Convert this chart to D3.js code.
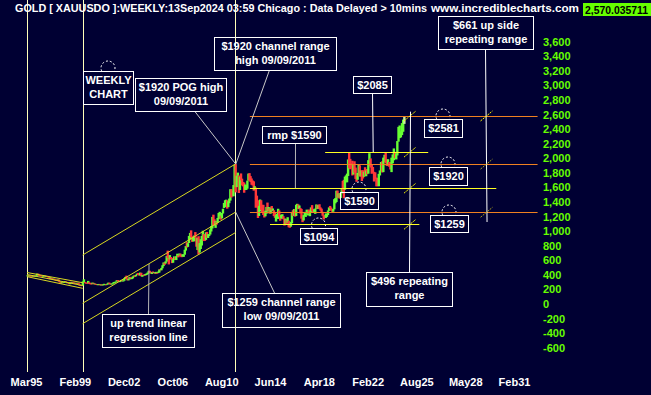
<!DOCTYPE html>
<html>
<head>
  <meta charset="utf-8">
  <title>Gold weekly</title>
  <script src="https://cdnjs.cloudflare.com/ajax/libs/d3/7.8.5/d3.min.js"></script>
  <style>
    html, body { margin: 0; padding: 0; background: #000033; }
    svg { display: block; font-family: "Liberation Sans", Arial, sans-serif; font-weight: bold; }
  </style>
</head>
<body>
  <svg id="chart" width="651" height="395"></svg>
  <script>
    // axis labels
    const tickLabels = ['Mar95', 'Feb99', 'Dec02', 'Oct06', 'Aug10', 'Jun14', 'Apr18', 'Feb22', 'Aug25', 'May28', 'Feb31']
    const priceTicks = [-600, -400, -200, 0, 200, 400, 600, 800, 1000, 1200, 1400, 1600, 1800, 2000,
      2200, 2400, 2600, 2800, 3000, 3200, 3400, 3600]

    // monthly bars from Apr 1995 to Sep 2024
    const firstMonth = '1995-04'
    const closes = [
      389, 385, 387, 383, 382, 384, 383, 387, 387,
      405, 400, 396, 392, 391, 382, 385, 387, 379, 379, 371, 369,
      345, 358, 348, 340, 345, 334, 326, 325, 332, 311, 296, 290,
      303, 297, 301, 310, 293, 296, 288, 273, 293, 292, 294, 288,
      287, 287, 279, 286, 268, 261, 255, 254, 299, 299, 291, 290,
      283, 293, 278, 276, 273, 288, 276, 278, 273, 264, 270, 273,
      265, 267, 258, 264, 267, 271, 266, 273, 293, 279, 275, 279,
      282, 297, 302, 308, 326, 318, 304, 312, 324, 317, 318, 347,
      368, 348, 334, 336, 364, 346, 354, 375, 388, 386, 398, 416,
      403, 397, 427, 388, 394, 395, 391, 408, 416, 428, 453, 438,
      422, 435, 428, 435, 417, 436, 429, 433, 473, 470, 495, 517,
      569, 556, 583, 654, 644, 616, 633, 624, 599, 604, 646, 636,
      650, 665, 663, 683, 660, 650, 667, 673, 742, 789, 783, 834,
      923, 972, 916, 865, 887, 930, 913, 833, 880, 718, 815, 869,
      927, 942, 916, 883, 979, 927, 955, 955, 1001, 1040, 1181, 1096,
      1081, 1118, 1113, 1180, 1213, 1244, 1181, 1248, 1307, 1357, 1386, 1421,
      1333, 1409, 1439, 1556, 1536, 1500, 1628, 1825, 1620, 1722, 1746, 1565,
      1738, 1697, 1669, 1664, 1560, 1604, 1622, 1692, 1776, 1719, 1713, 1675,
      1663, 1578, 1595, 1472, 1393, 1234, 1312, 1395, 1328, 1323, 1250, 1202,
      1240, 1326, 1284, 1296, 1250, 1327, 1282, 1287, 1209, 1171, 1182, 1199,
      1283, 1212, 1183, 1183, 1190, 1172, 1095, 1135, 1115, 1142, 1065, 1061,
      1118, 1238, 1233, 1293, 1215, 1322, 1351, 1309, 1316, 1277, 1173, 1152,
      1211, 1249, 1249, 1268, 1269, 1242, 1269, 1322, 1280, 1271, 1275, 1303,
      1345, 1318, 1325, 1315, 1299, 1253, 1224, 1201, 1192, 1215, 1222, 1282,
      1321, 1313, 1292, 1284, 1305, 1409, 1413, 1520, 1472, 1513, 1464, 1517,
      1589, 1585, 1577, 1687, 1730, 1781, 1975, 1968, 1886, 1879, 1776, 1898,
      1847, 1734, 1708, 1769, 1907, 1770, 1814, 1813, 1743, 1783, 1774, 1829,
      1796, 1908, 1937, 1897, 1837, 1807, 1766, 1711, 1660, 1633, 1768, 1824,
      1928, 1827, 1969, 1990, 1963, 1919, 1965, 1940, 1849, 1983, 2036, 2063,
      2039, 2044, 2230, 2286, 2327, 2327, 2447, 2503, 2570
    ]
    const highs = [
      396, 392, 391, 390, 390, 387, 388, 389, 390,
      418, 416, 400, 397, 394, 390, 388, 389, 388, 384, 383, 375,
      368, 365, 357, 349, 348, 346, 335, 335, 337, 336, 313, 298,
      307, 304, 302, 314, 310, 299, 297, 289, 299, 304, 301, 298,
      294, 291, 289, 292, 290, 266, 263, 258, 310, 339, 300, 292,
      293, 317, 298, 288, 284, 294, 290, 282, 277, 274, 271, 275,
      270, 268, 269, 268, 277, 272, 271, 279, 293, 292, 280, 280,
      285, 302, 303, 309, 327, 329, 318, 316, 330, 326, 322, 350,
      372, 389, 352, 341, 372, 370, 357, 378, 391, 392, 400, 417,
      426, 415, 431, 428, 395, 397, 409, 412, 419, 432, 455, 456,
      431, 440, 446, 438, 431, 441, 430, 444, 475, 479, 495, 531,
      570, 572, 586, 658, 732, 635, 671, 645, 631, 614, 653, 645,
      656, 690, 668, 693, 691, 669, 683, 681, 745, 795, 848, 835,
      934, 975, 1011, 930, 918, 941, 987, 915, 906, 930, 836, 889,
      933, 1005, 960, 929, 984, 989, 958, 958, 1023, 1070, 1195, 1226,
      1162, 1140, 1133, 1180, 1249, 1265, 1212, 1250, 1308, 1387, 1424, 1432,
      1423, 1410, 1447, 1576, 1577, 1553, 1632, 1912, 1920, 1761, 1803, 1764,
      1747, 1792, 1720, 1675, 1666, 1640, 1631, 1693, 1790, 1796, 1755, 1723,
      1695, 1684, 1616, 1597, 1487, 1424, 1346, 1434, 1424, 1361, 1361, 1267,
      1280, 1332, 1392, 1331, 1315, 1326, 1345, 1311, 1287, 1255, 1222, 1238,
      1307, 1283, 1224, 1224, 1232, 1205, 1175, 1170, 1157, 1191, 1143, 1088,
      1128, 1263, 1287, 1304, 1303, 1362, 1375, 1367, 1352, 1317, 1305, 1182,
      1220, 1264, 1262, 1295, 1275, 1297, 1272, 1326, 1357, 1306, 1299, 1309,
      1366, 1361, 1356, 1369, 1326, 1309, 1265, 1219, 1215, 1243, 1236, 1284,
      1326, 1346, 1324, 1301, 1306, 1439, 1453, 1555, 1557, 1518, 1515, 1524,
      1592, 1689, 1704, 1748, 1765, 1789, 1984, 2075, 1992, 1933, 1966, 1907,
      1959, 1872, 1755, 1798, 1916, 1903, 1832, 1834, 1836, 1814, 1877, 1831,
      1853, 1974, 2070, 1998, 1910, 1880, 1814, 1807, 1735, 1729, 1786, 1833,
      1949, 1959, 2009, 2048, 2078, 1983, 1987, 1949, 1947, 2009, 2052, 2135,
      2088, 2065, 2236, 2431, 2450, 2368, 2483, 2531, 2580
    ]
    const lows = [
      378, 382, 382, 381, 380, 382, 381, 382, 385,
      387, 397, 395, 390, 390, 381, 380, 384, 378, 378, 369, 366,
      341, 341, 344, 338, 340, 332, 318, 320, 321, 306, 294, 283,
      284, 290, 291, 300, 293, 285, 286, 272, 272, 290, 288, 283,
      284, 283, 278, 279, 268, 257, 252, 252, 254, 291, 287, 281,
      281, 283, 277, 271, 268, 272, 275, 271, 269, 263, 263, 266,
      262, 255, 255, 257, 263, 265, 264, 265, 270, 275, 271, 271,
      277, 280, 289, 300, 306, 315, 301, 300, 311, 312, 314, 318,
      343, 346, 324, 324, 337, 341, 341, 350, 368, 371, 379, 396,
      398, 391, 392, 380, 374, 389, 387, 393, 398, 411, 423, 425,
      419, 412, 424, 423, 415, 417, 416, 426, 432, 462, 462, 490,
      520, 538, 555, 581, 631, 543, 612, 614, 561, 566, 603, 610,
      603, 646, 640, 663, 651, 642, 651, 647, 676, 733, 775, 784,
      837, 883, 915, 853, 859, 860, 912, 786, 740, 681, 705, 755,
      803, 920, 864, 866, 880, 906, 906, 932, 953, 995, 1037, 1077,
      1073, 1045, 1088, 1112, 1165, 1178, 1157, 1175, 1242, 1318, 1330, 1366,
      1308, 1329, 1383, 1419, 1462, 1479, 1478, 1600, 1532, 1604, 1671, 1523,
      1564, 1697, 1627, 1614, 1527, 1564, 1565, 1583, 1692, 1693, 1673, 1636,
      1627, 1555, 1565, 1321, 1338, 1180, 1208, 1271, 1292, 1251, 1221, 1187,
      1203, 1239, 1277, 1268, 1240, 1240, 1281, 1273, 1206, 1183, 1131, 1170,
      1167, 1197, 1142, 1175, 1170, 1162, 1077, 1085, 1098, 1114, 1053, 1046,
      1061, 1107, 1208, 1209, 1199, 1208, 1310, 1301, 1306, 1241, 1171, 1123,
      1146, 1208, 1195, 1242, 1215, 1236, 1205, 1260, 1274, 1260, 1264, 1237,
      1302, 1307, 1304, 1301, 1282, 1247, 1211, 1160, 1181, 1182, 1196, 1221,
      1278, 1310, 1280, 1266, 1266, 1299, 1382, 1400, 1459, 1458, 1445, 1455,
      1517, 1548, 1451, 1568, 1671, 1670, 1757, 1863, 1849, 1860, 1764, 1777,
      1802, 1717, 1677, 1705, 1766, 1750, 1750, 1688, 1722, 1746, 1759, 1753,
      1781, 1788, 1890, 1872, 1787, 1805, 1681, 1709, 1615, 1617, 1616, 1764,
      1823, 1805, 1810, 1950, 1932, 1893, 1903, 1884, 1846, 1810, 1931, 1973,
      2002, 1984, 2039, 2228, 2277, 2286, 2318, 2364, 2472
    ]

    // drawn levels and trend channels
    const levels = [
      { value: 2581, from: '2012-11-01', to: '2032-06-01', kind: 'range' },
      { value: 1920, from: '2012-11-01', to: '2032-06-01', kind: 'range' },
      { value: 1259, from: '2012-11-01', to: '2032-06-01', kind: 'range' },
      { value: 2085, from: '2018-10-01', to: '2026-04-01', kind: 'level' },
      { value: 1590, from: '2012-11-01', to: '2030-02-01', kind: 'level' },
      { value: 1094, from: '2014-06-01', to: '2025-10-01', kind: 'level' }
    ]
    const channels = [
      [['1995-04-01', 432], ['1999-09-15', 292]],
      [['1995-04-01', 405], ['1999-09-15', 253]],
      [['1995-04-01', 375], ['1999-09-15', 215]],
      [['1999-09-15', 672], ['2011-09-09', 1920]],
      [['1999-09-15', 10], ['2011-09-09', 1259]],
      [['1999-09-15', -270], ['2011-09-09', 979]]
    ]
    const markerDates = ['1995-04-01', '1999-09-15', '2011-09-09']
    const crossMarks = [
      ['2025-02-15', 2581, true], ['2025-02-15', 2085, true], ['2025-02-15', 1590, true], ['2025-02-15', 1094, true],
      ['2029-07-15', 2581, true], ['2029-07-15', 1920, false], ['2029-07-15', 1259, false]
    ]

    const notes = [
      { lines: ['WEEKLY', 'CHART'], box: [83, 71, 50, 33], handle: true },
      { lines: ['$1920 POG high', '09/09/2011'], box: [135, 78, 91, 33], from: [194, 111], to: ['2011-09-09', 1920], lead: '#c8c8c8' },
      { lines: ['$1920 channel range', 'high 09/09/2011'], box: [214, 37, 122, 33], from: [269, 70], to: ['2011-09-09', 1920], lead: '#c8c8c8' },
      { lines: ['rmp $1590'], box: [262, 126, 64, 17], from: [295, 143], to: ['2016-05-15', 1590], lead: '#b8b8b8' },
      { lines: ['$2085'], box: [353, 76, 38, 17], from: [372, 93], to: ['2022-06-15', 2085], lead: '#ffffff' },
      { lines: ['$1590'], box: [340, 192, 38, 17], handle: true },
      { lines: ['$1094'], box: [300, 228, 37, 16], handle: true },
      { lines: ['$2581'], box: [424, 119, 38, 18], handle: true },
      { lines: ['$1920'], box: [429, 167, 38, 18], handle: true },
      { lines: ['$1259'], box: [430, 215, 38, 17], handle: true },
      { lines: ['$661 up side', 'repeating range'], box: [438, 16, 95, 33], from: [485, 49], to: ['2029-07-15', 1125], lead: '#ffffff' },
      { lines: ['$496 repeating', 'range'], box: [366, 272, 86, 34], from: [409, 272], to: ['2025-02-15', 2640], lead: '#ffffff' },
      { lines: ['$1259 channel range', 'low 09/09/2011'], box: [222, 293, 118, 34], from: [274, 293], to: ['2011-09-09', 1259], lead: '#c8c8c8' },
      { lines: ['up trend linear', 'regression line'], box: [102, 314, 92, 33], from: [148, 314], to: ['2004-11-15', 548], lead: '#b8b8b8' }
    ]

    const title = 'GOLD [ XAUUSDO ]:WEEKLY:13Sep2024 03:59 Chicago : Data Delayed > 10mins'
    const site = 'www.incrediblecharts.com'
    const lastPrice = '2,570.035711'

    const colorUp = '#66ff33'
    const colorDown = '#ff3838'
    const colorRange = '#f08020'
    const colorLevel = '#ffff22'
    const colorChannel = '#d8d820'
    const colorMarker = '#ffffb8'

    const parseDay = d3.timeParse('%Y-%m-%d')
    const parseTick = d3.timeParse('%b%y')
    const tickDates = tickLabels.map(parseTick)
    const priceFormat = d3.formatLocale({ decimal: '.', thousands: ',', grouping: [3], currency: ['$', ''], minus: '-' }).format(',')

    const svg = d3.select('#chart')

    // weekly bars are spaced evenly between the date labels
    const x = d3.scaleTime()
      .domain(tickDates)
      .range(tickDates.map((d, i) => 26 + i * 48.8))
    const y = d3.scaleLinear().domain([-600, 3600]).range([347.7, 41.7])

    const start = d3.timeParse('%Y-%m')(firstMonth)
    const bars = closes.map((c, i) => ({
      date: d3.timeDay.offset(d3.timeMonth.offset(start, i), 14),
      high: highs[i],
      low: lows[i],
      up: i === 0 || c >= closes[i - 1],
      last: i === closes.length - 1
    }))

    svg.append('rect').attr('width', 651).attr('height', 395).attr('fill', '#000033')

    // date markers
    svg.append('g').selectAll('line').data(markerDates).join('line')
      .attr('x1', d => Math.round(x(parseDay(d))) + 0.5)
      .attr('x2', d => Math.round(x(parseDay(d))) + 0.5)
      .attr('y1', 0).attr('y2', 372)
      .attr('stroke', colorMarker)

    // handles of the text notes
    svg.append('g').selectAll('path').data(notes.filter(n => n.handle)).join('path')
      .attr('d', n => {
        const p = d3.path()
        const cx = n.box[0] + n.box[2] / 2
        const cy = n.box[1] - 3
        p.moveTo(cx + 7 * Math.cos(0.85 * Math.PI), cy + 7 * Math.sin(0.85 * Math.PI))
        p.arc(cx, cy, 7, 0.85 * Math.PI, 2.15 * Math.PI)
        return p.toString()
      })
      .attr('fill', 'none').attr('stroke', '#fff').attr('stroke-dasharray', '2,2')

    // price bars
    svg.append('g').selectAll('rect').data(bars).join('rect')
      .attr('x', d => x(d.date) - 1)
      .attr('y', d => y(d.high))
      .attr('width', 2.4)
      .attr('height', d => Math.max(1, y(d.low) - y(d.high)))
      .attr('fill', d => d.last ? '#c8f0a0' : d.up ? colorUp : colorDown)

    // channels
    svg.append('g').selectAll('line').data(channels).join('line')
      .attr('x1', d => x(parseDay(d[0][0]))).attr('y1', d => y(d[0][1]))
      .attr('x2', d => x(parseDay(d[1][0]))).attr('y2', d => y(d[1][1]))
      .attr('stroke', colorChannel)

    // horizontal levels
    svg.append('g').selectAll('line').data(levels).join('line')
      .attr('x1', d => x(parseDay(d.from))).attr('x2', d => x(parseDay(d.to)))
      .attr('y1', d => Math.round(y(d.value)) + 0.5).attr('y2', d => Math.round(y(d.value)) + 0.5)
      .attr('stroke', d => d.kind === 'range' ? colorRange : colorLevel)

    // leaders
    const leaders = notes.filter(n => n.to)
    svg.append('g').selectAll('line').data(leaders).join('line')
      .attr('x1', n => n.from[0] + 0.5).attr('y1', n => n.from[1])
      .attr('x2', n => x(parseDay(n.to[0])) + 0.5).attr('y2', n => y(n.to[1]))
      .attr('stroke', n => n.lead)

    // small slashes where the projections cross the levels
    svg.append('g').selectAll('line').data(crossMarks).join('line')
      .attr('x1', d => x(parseDay(d[0])) - 6).attr('y1', d => y(d[1]) + 5)
      .attr('x2', d => x(parseDay(d[0])) + 6).attr('y2', d => y(d[1]) - 5)
      .attr('stroke', d => d[2] ? '#ffff00' : '#a8a020')
      .attr('stroke-dasharray', '2,1')

    // note boxes
    const note = svg.append('g').selectAll('g').data(notes).join('g')
    note.append('rect')
      .attr('x', n => n.box[0] + 0.5).attr('y', n => n.box[1] + 0.5)
      .attr('width', n => n.box[2]).attr('height', n => n.box[3])
      .attr('fill', 'none').attr('stroke', '#fff')
    note.selectAll('text').data(n => n.lines.map((t, i) => ({ t, i, n }))).join('text')
      .attr('x', d => d.n.box[0] + d.n.box[2] / 2 + 0.5)
      .attr('y', d => d.n.box[1] + 13 + d.i * 14)
      .attr('text-anchor', 'middle')
      .attr('fill', '#fff')
      .style('font-size', '11px')
      .text(d => d.t)

    // axes
    const yAxis = svg.append('g')
      .attr('transform', 'translate(543,0)')
      .call(d3.axisRight(y).tickValues(priceTicks).tickSize(0).tickPadding(0).tickFormat(priceFormat))
    yAxis.select('.domain').remove()
    yAxis.selectAll('text').attr('fill', '#66ff00').style('font-size', '11px').style('font-family', null)

    const xAxis = svg.append('g')
      .attr('transform', 'translate(0,372)')
      .call(d3.axisBottom(x).tickValues(tickDates).tickSize(0).tickPadding(6).tickFormat(d3.timeFormat('%b%y')))
    xAxis.select('.domain').remove()
    xAxis.selectAll('text').attr('fill', '#fff').style('font-size', '11px').style('font-family', null)

    // header
    svg.append('text').attr('x', 15).attr('y', 12)
      .attr('fill', '#fff').style('font-size', '10.5px')
      .attr('textLength', 412).attr('lengthAdjust', 'spacingAndGlyphs')
      .text(title)
    svg.append('text').attr('x', 431).attr('y', 12)
      .attr('fill', '#fff').style('font-size', '10.5px')
      .attr('textLength', 148).attr('lengthAdjust', 'spacingAndGlyphs')
      .text(site)
    svg.append('rect').attr('x', 583).attr('y', 3).attr('width', 68).attr('height', 13).attr('fill', '#66ff00')
    svg.append('text').attr('x', 585).attr('y', 13.5)
      .attr('fill', '#000').style('font-size', '10.5px')
      .attr('textLength', 63).attr('lengthAdjust', 'spacingAndGlyphs')
      .text(lastPrice)
  </script>
</body>
</html>
